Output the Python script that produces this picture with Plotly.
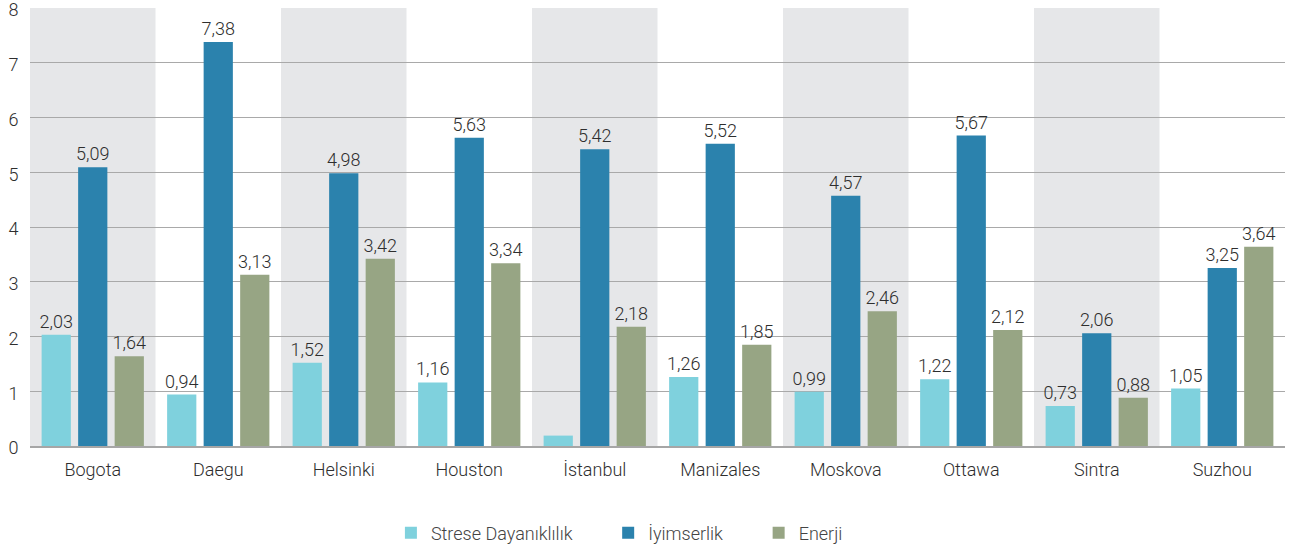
import plotly.graph_objects as go

cities = ["Bogota", "Daegu", "Helsinki", "Houston", "İstanbul",
          "Manizales", "Moskova", "Ottawa", "Sintra", "Suzhou"]
stres = [2.03, 0.94, 1.52, 1.16, 0.19, 1.26, 0.99, 1.22, 0.73, 1.05]
iyimserlik = [5.09, 7.38, 4.98, 5.63, 5.42, 5.52, 4.57, 5.67, 2.06, 3.25]
enerji = [1.64, 3.13, 3.42, 3.34, 2.18, 1.85, 2.46, 2.12, 0.88, 3.64]
y_ticks = [0, 1, 2, 3, 4, 5, 6, 7, 8]
# values too small to carry a readable label
hidden_labels = {("Strese Dayanıklılık", "İstanbul")}

series = [
    ("Strese Dayanıklılık", stres, "#7fd1dd"),
    ("İyimserlik", iyimserlik, "#2b82ad"),
    ("Enerji", enerji, "#97a584"),
]

font_family = "Roboto, Inter, sans-serif"
text_color = "#2e2e2e"
pad = "\u00a0" * 7  # extra room between legend entries

fig = go.Figure()
for name, vals, color in series:
    labels = [
        "" if (name, c) in hidden_labels else f"{v:.2f}".replace(".", ",")
        for c, v in zip(cities, vals)
    ]
    fig.add_trace(go.Bar(
        name=name + pad, x=cities, y=vals,
        marker=dict(color=color, line=dict(width=0)),
        text=labels, textposition="outside", cliponaxis=False,
        constraintext="none",
        textfont=dict(size=18, color=text_color, family=font_family, weight=300),
        hoverinfo="skip",
    ))

# alternating shaded category bands
for i in range(0, len(cities), 2):
    fig.add_shape(type="rect", xref="x", yref="paper",
                  x0=i - 0.5, x1=i + 0.5, y0=0, y1=1,
                  fillcolor="#e6e7e9", line=dict(width=0), layer="below")

fig.update_layout(
    width=1290, height=550,
    margin=dict(l=30, r=5, t=8, b=104, autoexpand=False),
    paper_bgcolor="white", plot_bgcolor="white",
    barmode="group", bargap=0.127, bargroupgap=0.2,
    font=dict(family=font_family, size=18, color=text_color, weight=300),
    showlegend=True,
    legend=dict(orientation="h", x=0.482, xanchor="center",
                yref="container", y=0.031, yanchor="middle",
                font=dict(size=18, color="#444444", weight=300), itemwidth=30,
                traceorder="normal"),
)
fig.update_xaxes(
    range=[-0.5, len(cities) - 0.5], showgrid=False, showline=True,
    linecolor="#a6a6a6", linewidth=1.5, ticks="outside", ticklen=7,
    tickcolor="rgba(0,0,0,0)", automargin=False,
    tickfont=dict(size=18, color=text_color, weight=300),
)
fig.update_yaxes(
    range=[0, 8], tickmode="array", tickvals=y_ticks,
    ticktext=[str(t) for t in y_ticks],
    showgrid=True, gridcolor="#a9a9a9", gridwidth=1,
    zeroline=False, showline=False, ticks="outside", ticklen=7,
    tickcolor="rgba(0,0,0,0)", automargin=False, ticklabeloverflow="allow",
    ticklabelshift=2,
    tickfont=dict(size=18, color=text_color, weight=300),
    layer="below traces",
)

fig.write_html("out.html")
